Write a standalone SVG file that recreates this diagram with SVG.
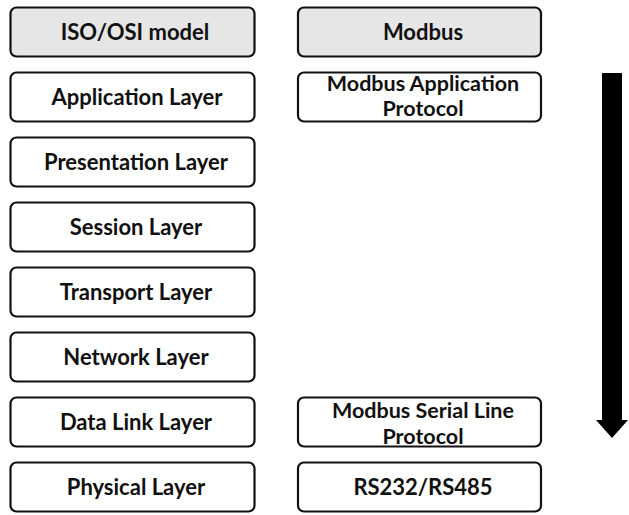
<svg xmlns="http://www.w3.org/2000/svg" width="629" height="515" viewBox="0 0 629 515">
  <style>
    .box { fill: #ffffff; stroke: #111111; stroke-width: 2.2; }
    .head { fill: #e6e6e6; }
    .lbl { font-family: Lato, "Liberation Sans", sans-serif; font-weight: bold; font-size: 22px; fill: #111111; text-anchor: middle; }
    .two { font-size: 21.5px; }
  </style>
  <defs>
    <rect id="cell-l" x="10.5" y="0" width="244" height="49" rx="6" ry="6"/>
    <rect id="cell-r" x="298" y="0" width="243" height="49" rx="6" ry="6"/>
  </defs>

  <!-- ISO/OSI column -->
  <g id="iso-header">
    <use href="#cell-l" y="7.5" class="box head"/>
    <text class="lbl" x="135" y="39.5">ISO/OSI model</text>
  </g>
  <g id="application-layer">
    <use href="#cell-l" y="72.5" class="box"/>
    <text class="lbl" x="137" y="104.5">Application Layer</text>
  </g>
  <g id="presentation-layer">
    <use href="#cell-l" y="137.5" class="box"/>
    <text class="lbl" x="136" y="169.5">Presentation Layer</text>
  </g>
  <g id="session-layer">
    <use href="#cell-l" y="202.5" class="box"/>
    <text class="lbl" x="136" y="234.5">Session Layer</text>
  </g>
  <g id="transport-layer">
    <use href="#cell-l" y="267.5" class="box"/>
    <text class="lbl" x="136" y="299.5">Transport Layer</text>
  </g>
  <g id="network-layer">
    <use href="#cell-l" y="332.5" class="box"/>
    <text class="lbl" x="136" y="364.5">Network Layer</text>
  </g>
  <g id="data-link-layer">
    <use href="#cell-l" y="397.5" class="box"/>
    <text class="lbl" x="136" y="429.5">Data Link Layer</text>
  </g>
  <g id="physical-layer">
    <use href="#cell-l" y="462.5" class="box"/>
    <text class="lbl" x="136" y="494.5">Physical Layer</text>
  </g>

  <!-- Modbus column -->
  <g id="modbus-header">
    <use href="#cell-r" y="7.5" class="box head"/>
    <text class="lbl" x="423" y="39.5">Modbus</text>
  </g>
  <g id="modbus-application">
    <use href="#cell-r" y="72.5" class="box"/>
    <text class="lbl two" x="423" y="90.5">Modbus Application</text>
    <text class="lbl two" x="423" y="116">Protocol</text>
  </g>
  <g id="modbus-serial-line">
    <use href="#cell-r" y="397.5" class="box"/>
    <text class="lbl two" x="423" y="418">Modbus Serial Line</text>
    <text class="lbl two" x="423" y="443.5">Protocol</text>
  </g>
  <g id="rs232-rs485">
    <use href="#cell-r" y="462.5" class="box"/>
    <text class="lbl" x="423" y="494.5">RS232/RS485</text>
  </g>

  <!-- downward direction arrow -->
  <g id="connectors">
    <path d="M602 73 H622 V420 H628 L612 438 L596 420 H602 Z" fill="#000000"/>
  </g>
</svg>
